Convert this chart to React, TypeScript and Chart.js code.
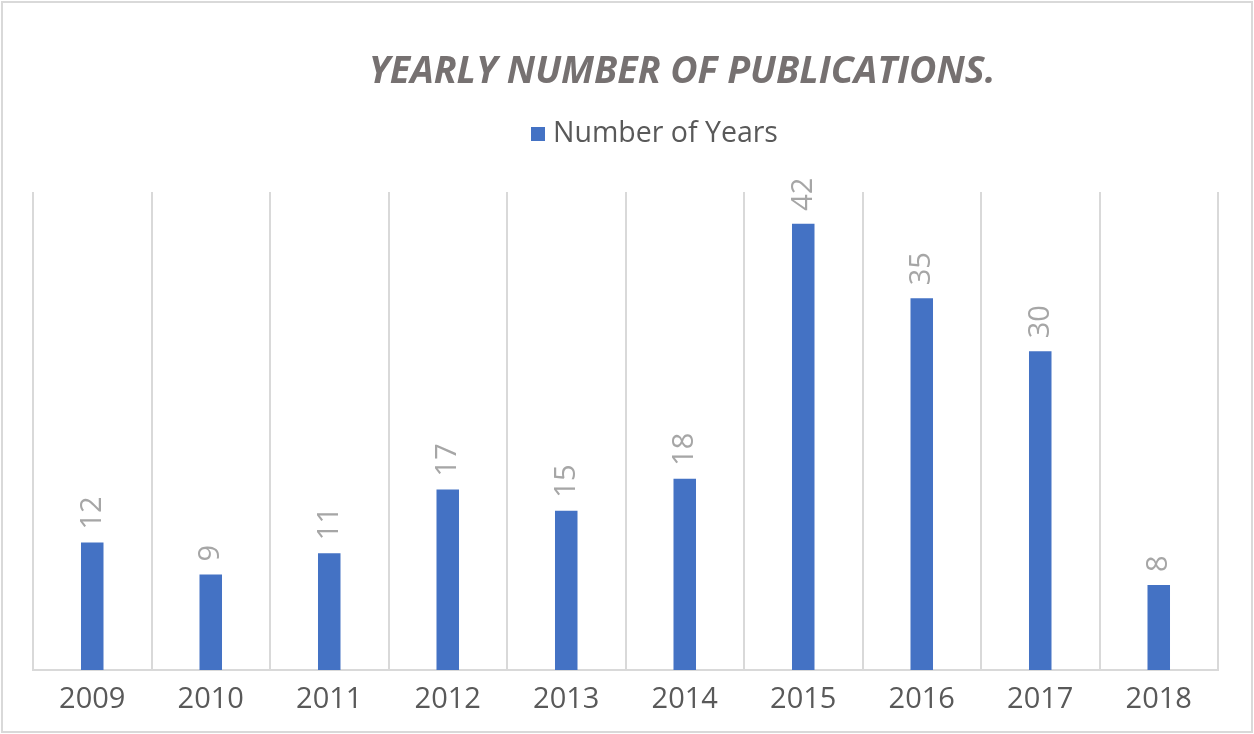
import React, { useEffect, useRef } from "react";
import { Chart, registerables } from "chart.js";

Chart.register(...registerables);

const categories = ["2009", "2010", "2011", "2012", "2013", "2014", "2015", "2016", "2017", "2018"];
const seriesValues = [12, 9, 11, 17, 15, 18, 42, 35, 30, 8];
const seriesName = "Number of Years";
const titleText = "YEARLY NUMBER OF PUBLICATIONS.";

const BLUE = "#4472C4";
const GRID = "#d9d9d9";

const decorPlugin = {
  id: "decor",
  beforeDraw(chart: any) {
    const ctx = chart.ctx;
    ctx.save();
    ctx.fillStyle = "#ffffff";
    ctx.fillRect(0, 0, chart.width, chart.height);
    ctx.strokeStyle = GRID;
    ctx.lineWidth = 2;
    ctx.strokeRect(2, 2, chart.width - 4, chart.height - 4);
    ctx.restore();
  },
  afterDraw(chart: any) {
    const ctx = chart.ctx;
    ctx.save();
    // title
    ctx.fillStyle = "#767171";
    ctx.font = "italic bold 37.5px 'Open Sans'";
    ctx.textAlign = "center";
    ctx.textBaseline = "middle";
    ctx.fillText(titleText, 682, 72);
    // legend
    ctx.fillStyle = BLUE;
    ctx.fillRect(531, 127, 14, 14);
    ctx.fillStyle = "#595959";
    ctx.font = "28.5px 'Open Sans'";
    ctx.textAlign = "left";
    ctx.fillText(seriesName, 553, 134);
    // data labels
    const meta = chart.getDatasetMeta(0);
    ctx.fillStyle = "#a6a6a6";
    ctx.font = "29px 'Open Sans'";
    ctx.textAlign = "left";
    ctx.textBaseline = "middle";
    meta.data.forEach((el: any, i: number) => {
      ctx.save();
      ctx.translate(el.x, el.y - 13);
      ctx.rotate(-Math.PI / 2);
      ctx.fillText(String(seriesValues[i]), 0, 0);
      ctx.restore();
    });
    ctx.restore();
  },
};

export default function App() {
  const ref = useRef<HTMLCanvasElement>(null);
  useEffect(() => {
    document.body.style.margin = "0";
    const chart = new Chart(ref.current!, {
      type: "bar",
      data: {
        labels: categories,
        datasets: [
          {
            label: seriesName,
            data: seriesValues,
            backgroundColor: BLUE,
            categoryPercentage: 1,
            barPercentage: 0.19,
          },
        ],
      },
      options: {
        animation: false,
        responsive: false,
        maintainAspectRatio: false,
        layout: { padding: { left: 33, right: 36, top: 192, bottom: 0 } },
        plugins: { legend: { display: false }, title: { display: false }, tooltip: { enabled: false } },
        scales: {
          x: {
            grid: { display: true, color: GRID, lineWidth: 2, drawTicks: false, offset: true },
            border: { display: true, color: GRID, width: 2 },
            ticks: { color: "#595959", font: { family: "'Open Sans'", size: 29 }, padding: 12 },
            afterFit(scale: any) {
              scale.height = 64;
            },
          },
          y: { display: false, min: 0, max: 45 },
        },
      },
      plugins: [decorPlugin],
    });
    return () => chart.destroy();
  }, []);
  return (
    <div style={{ width: 1254, height: 734 }}>
      <canvas ref={ref} width={1254} height={734} style={{ display: "block" }} />
    </div>
  );
}
